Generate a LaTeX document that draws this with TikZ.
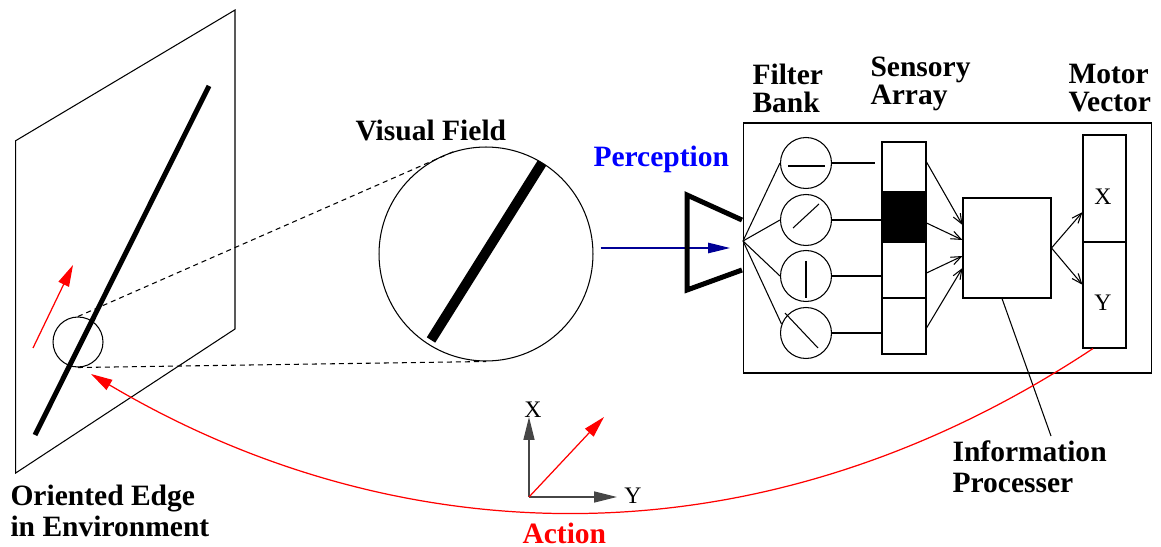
\documentclass[tikz,border=0pt]{standalone}
\usepackage{fontspec}
\setmainfont{Liberation Serif}
\usetikzlibrary{arrows.meta,calc}
\definecolor{navy}{RGB}{0,0,150}
\definecolor{axisgray}{RGB}{70,70,70}
\begin{document}
\begin{tikzpicture}[x=0.02cm,y=-0.02cm,line width=0.6pt,
  lbl/.style={font=\fontsize{16.8pt}{16pt}\selectfont\bfseries,align=left,anchor=base west,inner sep=0pt},
  lblwide/.style={lbl,font=\fontsize{16.8pt}{18pt}\selectfont\bfseries},
  smalltxt/.style={font=\fontsize{13.5pt}{14pt}\selectfont,inner sep=0pt},
  cell/.style={draw,minimum width=0.88cm,inner sep=0pt},
  filt/.style={draw,circle,minimum size=1.02cm,inner sep=0pt},
  redtip/.style={-{Triangle[length=4.3mm,width=2.3mm]}},
  bluetip/.style={-{Triangle[length=4.4mm,width=2.1mm]}},
  axtip/.style={-{Triangle[length=4.6mm,width=2.2mm]}},
  barb/.style={-{Straight Barb[length=2mm,width=1.6mm]}},
  dashline/.style={dash pattern=on 1mm off 0.8mm},
  axisline/.style={draw=axisgray,line width=0.9pt}]
\useasboundingbox (0,0) rectangle (1161,547);

% environment plane
\draw (15.7,140.7) -- (235,10) -- (235,329) -- (15.7,473) -- cycle;
\draw[line width=1mm] (209,86) -- (35,435);
\node[draw,circle,minimum size=1cm,inner sep=0pt] (sc) at (78,342) {};
\coordinate (ra0) at (33,348);
\coordinate (ra1) at (73,265);
\draw[red,line width=0.7pt,redtip] (ra0) -- (ra1);
\node[lblwide] (env) at (10,537) {Oriented Edge\\in Environment};

% visual field
\node[draw,circle,minimum size=4.28cm,inner sep=0pt] (vf) at (486,254) {};
\draw[line width=2mm] (542,163) -- (431,340);
\draw[dashline] (sc.north) -- (vf.107);
\draw[dashline] (sc.south) -- (vf.south);
\node[lbl] (vflbl) at (355,141) {Visual Field};

% perception
\node[lbl,text=blue] (perc) at (593,167) {Perception};
\coordinate (eye) at (730,248);
\draw[navy,line width=0.7pt,bluetip] ([shift={(7,-6)}]vf.east) -- (eye);
\draw[line width=1mm,line join=miter] (742,220) -- (687,195) -- (687,290) -- (742,270);

% system box
\node[draw,minimum width=8.18cm,minimum height=5cm,inner sep=0pt] (sys) at (947.5,248) {};
\node[lbl] (fb) at (752,113) {Filter\\Bank};
\node[lbl] (sa) at (870,105) {Sensory\\Array};
\node[lbl] (mv) at (1068,112) {Motor\\Vector};

% filter bank
\node[filt] (f1) at (806,163) {};
\node[filt] (f2) at (806,220) {};
\node[filt] (f3) at (806,276) {};
\node[filt] (f4) at (806,333) {};
\draw ($(f1)+(-18,3)$) -- ($(f1)+(19,3)$);
\draw ($(f2)+(-13,8)$) -- ($(f2)+(13,-16)$);
\draw ($(f3)+(0,-15)$) -- ($(f3)+(0,22)$);
\draw ($(f4)+(-21,-20)$) -- ($(f4)+(12,15)$);
\coordinate (fan) at (743,241);
\draw (fan) -- (f1.west);
\draw (fan) -- (f2.west);
\draw (fan) -- (f3.west);
\draw (fan) -- (f4.160);

% sensory array
\node[cell,minimum height=1cm] (s1) at (904,167) {};
\node[cell,minimum height=1cm,fill=black] (s2) at (904,217) {};
\node[cell,minimum height=1.12cm] (s3) at (904,270) {};
\node[cell,minimum height=1.12cm] (s4) at (904,326) {};
\draw (f1.east) -- ++(43,0);
\draw (f2.east) -- (f2.east -| s2.west);
\draw (f3.east) -- (f3.east -| s3.west);
\draw (f4.east) -- (f4.east -| s4.west);

% information processor
\node[draw,minimum width=1.76cm,minimum height=2cm,inner sep=0pt] (proc) at (1007,248) {};
\draw[barb] ([yshift=0.1cm]s1.east) -- ([yshift=0.46cm]proc.west);
\draw[barb] ([yshift=-0.12cm]s2.east) -- ([yshift=0.16cm]proc.west);
\draw[barb] ([yshift=-0.06cm]s3.east) -- ([yshift=-0.16cm]proc.west);
\draw[barb] ([yshift=-0.04cm]s4.east) -- ([yshift=-0.4cm]proc.west);

% motor vector
\node[cell,minimum width=0.86cm,minimum height=2.14cm] (mx) at (1104.5,188.5) {};
\node[cell,minimum width=0.86cm,minimum height=2.12cm] (my) at (1104.5,295) {};
\node[smalltxt] (mxl) at (1103,197) {X};
\node[smalltxt] (myl) at (1103,303) {Y};
\draw[barb] (proc.east) -- (mx.227.5);
\draw[barb] (proc.east) -- (my.155);

% info label
\coordinate (infotip) at (1051,436);
\draw ([xshift=-0.1cm]proc.south) -- (infotip);
\node[lblwide] (info) at (952,493) {Information\\Processer};

% action
\coordinate (acttip) at (91,374);
\draw[red,line width=0.7pt,redtip] ([xshift=-0.23cm]my.south) .. controls (751,575) and (388,550) .. (acttip);
\node[lbl,text=red] (act) at (522,543) {Action};

% axes
\coordinate (O) at (529,497);
\coordinate (Xt) at (529,417);
\coordinate (Yt) at (617,497);
\coordinate (Rt) at (604,417);
\draw[axisline,axtip] (O) -- (Xt);
\draw[axisline,axtip] (O) -- (Yt);
\draw[red,line width=0.7pt,redtip] (O) -- (Rt);
\node[smalltxt] (axl) at (533,410) {X};
\node[smalltxt] (ayl) at (633,496) {Y};
\end{tikzpicture}
\end{document}
